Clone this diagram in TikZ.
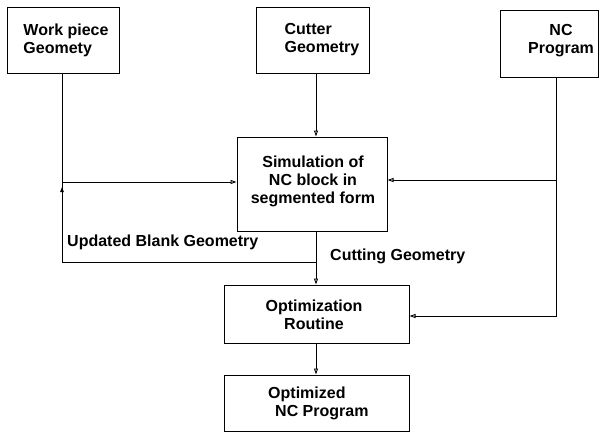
\documentclass[tikz,border=0pt]{standalone}
\usepackage{fontspec}
\setmainfont{Liberation Sans}
\usetikzlibrary{arrows.meta}
\begin{document}
\begin{tikzpicture}[x=1pt,y=-1pt,
  box/.style={draw, line width=1pt, inner sep=0pt},
  txt/.style={font=\bfseries\fontsize{16}{18}\selectfont, inner sep=0pt, align=left},
  ctxt/.style={font=\bfseries\fontsize{16}{18}\selectfont, inner sep=0pt, align=center},
  conn/.style={line width=0.9pt},
  tip/.style={-{Triangle[open,length=6pt,width=4pt]}}]
\useasboundingbox (0,0) rectangle (606,439);
% boxes
\node[box, minimum width=112pt, minimum height=66pt] (wp) at (63,40) {};
\node[box, minimum width=113pt, minimum height=66pt] (cg) at (312.5,40) {};
\node[box, minimum width=98pt, minimum height=67pt] (nc) at (549,43.5) {};
\node[box, minimum width=150pt, minimum height=94pt] (sim) at (312,184) {};
\node[box, minimum width=185pt, minimum height=58pt] (opt) at (316.5,314) {};
\node[box, minimum width=185pt, minimum height=56pt] (onc) at (316.5,403) {};
% texts
\node[txt] (wpt) at (66,40) {Work piece\\Geomety};
\node[txt] (cgt) at (322,40) {Cutter\\Geometry};
\node[ctxt, align=center] (nct) at (561,41) {NC\\Program};
\node[ctxt] (simt) at (313,181) {Simulation of\\NC block in\\segmented form};
\node[ctxt] (optt) at (314,315) {Optimization\\Routine};
\node[txt, anchor=west] (onct) at (268,403) {Optimized\\\hspace*{7pt}NC Program};
\node[txt, anchor=west] (ubg) at (67,242) {Updated Blank Geometry};
\node[txt, anchor=west] (cut) at (330,256) {Cutting Geometry};
% coordinates
\coordinate (cx) at (316,0);
\coordinate (wx) at (62,0);
\coordinate (nx) at (556,0);
\coordinate (wb) at (62,182);
\coordinate (wc) at (62,262);
\coordinate (nb) at (556,180);
\coordinate (nd) at (556,316);
\coordinate (m1) at (62,195);
\coordinate (m2) at (62,187);
% connectors
\draw[conn] (wp.south -| wx) -- (wc) -- (wc -| cx);
\draw[conn,tip] (wb) -- (wb -| sim.west);
\draw[conn,-{Triangle[length=5pt,width=3.5pt]}] (m1) -- (m2);
\draw[conn,tip] (cg.south -| cx) -- (sim.north -| cx);
\draw[conn,tip] (sim.south -| cx) -- (opt.north -| cx);
\draw[conn,tip] (nc.south -| nx) -- (nd) -- (opt.east |- nd);
\draw[conn,tip] (nb) -- (sim.east |- nb);
\draw[conn,tip] (opt.south -| cx) -- (onc.north -| cx);
\end{tikzpicture}
\end{document}
